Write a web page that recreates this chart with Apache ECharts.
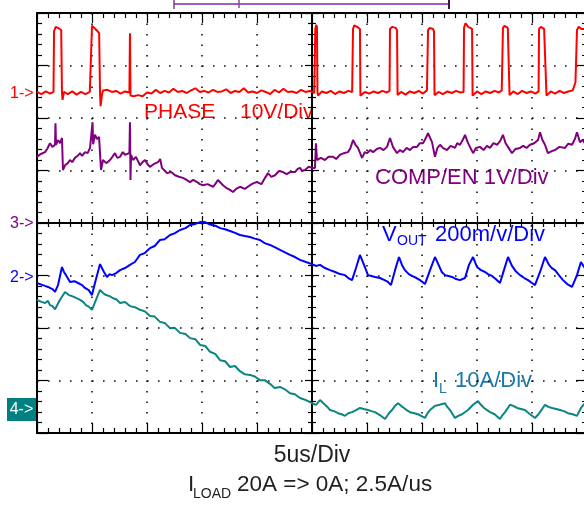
<!DOCTYPE html>
<html>
<head>
<meta charset="utf-8">
<script src="https://cdn.jsdelivr.net/npm/echarts/dist/echarts.min.js"></script>
<style>
html, body { margin: 0; padding: 0; background: #fff; }
#main { width: 584px; height: 505px; }
</style>
</head>
<body>
<div id="main"></div>
<script>
// time axis in us (5us/div, 10 div)
var timeTicks = [0, 5, 10, 15, 20, 25, 30, 35, 40, 45, 50]

// CH1 PHASE, volts
var phase = [
  [0, 0.2], [0.4, -0.2], [0.8, 0.3], [1.2, -0.1], [1.5, 0.2],
  [1.55, 11.8], [1.7, 12.6], [1.9, 12.4], [2.2, 12.0], [2.27, 0], [2.32, -1.3], [2.45, 0.2],
  [2.8, -0.2], [3.2, 0.3], [3.6, -0.3], [4.0, 0.2], [4.4, -0.2], [4.8, 0.2], [4.97, 0],
  [5.0, 12.8], [5.15, 12.5], [5.4, 12.0], [5.65, 11.4], [5.73, 0], [5.78, -2.5], [5.9, -0.4], [6.0, 0.5],
  [6.4, 0.6], [6.8, 0.2], [7.2, 0.4], [7.6, -0.1], [8.0, 0.3], [8.4, 0.1],
  [8.45, 11.4], [8.5, -0.5], [8.8, -0.6], [9.2, -0.4], [9.6, -0.6], [10.0, 0.1], [10.4, -0.1],
  [10.8, 0.6], [11.2, 0], [11.6, 0.4], [12.0, 0.1], [12.4, 0.8], [12.8, 0.2], [13.2, 0.4],
  [13.6, 0], [14.0, 0.5], [14.4, 0.9], [14.8, 0.2], [15.2, 0.4], [15.6, 0.1], [16.0, 0.6],
  [16.4, 0.2], [16.8, 0.3], [17.2, 0.7], [17.6, 0], [18.0, 0.4], [18.4, 0.2], [18.8, 0.9],
  [19.2, 0.1], [19.6, 0.3], [20.0, 0], [20.4, 0.5], [20.8, 0.2], [21.2, -0.2], [21.6, 0.6],
  [22.0, 0.1], [22.4, 0.8], [22.8, 0.2], [23.2, 0.3], [23.6, 0], [24.0, 0.6], [24.4, 0.2],
  [24.8, 0.4], [25.2, 0],
  [25.3, 12.2], [25.38, 13.0], [25.45, 12.6], [25.5, 0], [25.55, -0.5], [25.9, 0.3], [26.3, 0],
  [26.7, 0.4], [27.1, -0.2], [27.5, 0.3], [27.9, 0], [28.3, 0.4], [28.65, 0.2],
  [28.73, 12.2], [28.85, 12.9], [29.1, 12.6], [29.36, 12.2], [29.4, -0.5], [29.8, 0.2],
  [30.2, -0.1], [30.6, 0.3], [31.0, 0], [31.4, 0.4], [31.8, 0.1], [32.05, 0.4],
  [32.09, 12.2], [32.3, 12.6], [32.6, 12.4], [32.73, 12.0], [32.78, -0.4], [33.1, 0.2],
  [33.5, -0.3], [33.9, 0.3], [34.3, 0], [34.7, 0.4], [35.1, -0.1], [35.45, 0.5],
  [35.55, 12.0], [35.7, 12.4], [36.0, 12.2], [36.09, 11.8], [36.14, -0.4], [36.5, 0.2],
  [36.9, -0.2], [37.3, 0.3], [37.7, 0], [38.1, 0.4], [38.5, 0.1], [38.78, 0.2],
  [38.82, 12.4], [38.95, 13.3], [39.2, 12.6], [39.55, 12.2], [39.6, -0.5], [40.0, 0.3],
  [40.4, -0.2], [40.8, 0.3], [41.2, 0], [41.6, 0.4], [42.0, 0.1], [42.25, 0.5],
  [42.36, 12.4], [42.5, 12.8], [42.8, 12.4], [42.91, 12.2], [42.96, -0.4], [43.3, 0.3],
  [43.7, -0.2], [44.1, 0.4], [44.5, 0], [44.9, 0.3], [45.3, -0.1], [45.6, 0.3],
  [45.64, 12.2], [45.8, 12.6], [46.1, 12.2], [46.27, 12.0], [46.32, -0.5], [46.7, 0.3],
  [47.1, -0.1], [47.5, 0.4], [47.9, 0], [48.3, 0.3], [48.7, 0.5], [48.95, 2.0],
  [49.09, 12.0], [49.25, 12.6], [49.5, 12.2], [49.8, 12.2]
]

// CH3 COMP/EN, volts
var comp = [
  [0, 1.26], [0.3, 1.31], [0.73, 1.35], [0.95, 1.42], [1.18, 1.52], [1.4, 1.45], [1.64, 1.49],
  [1.68, 1.90], [1.73, 1.49], [1.91, 1.58], [2.1, 1.52], [2.27, 1.62], [2.36, 1.01], [2.55, 1.10],
  [2.8, 1.14], [3.0, 1.20], [3.2, 1.16], [3.45, 1.24], [3.7, 1.28], [3.91, 1.33], [4.1, 1.28],
  [4.36, 1.35], [4.6, 1.33], [4.82, 1.43], [5.0, 1.45], [5.05, 1.92], [5.1, 1.50], [5.27, 1.68],
  [5.45, 1.60], [5.64, 1.64], [5.82, 1.01], [6.0, 1.20], [6.3, 1.14], [6.64, 1.20], [6.85, 1.26],
  [7.09, 1.33], [7.3, 1.24], [7.55, 1.26], [7.8, 1.35], [8.0, 1.30], [8.4, 1.33], [8.45, 1.92],
  [8.5, 0.82], [8.55, 1.30], [8.73, 1.20], [9.0, 1.26], [9.36, 1.10], [9.6, 1.16], [9.82, 1.20],
  [10.05, 1.12], [10.27, 1.07], [10.6, 1.12], [11.0, 1.16], [11.2, 1.22], [11.36, 1.05],
  [11.6, 1.00], [11.82, 0.95], [12.2, 0.97], [12.55, 0.91], [12.9, 0.88], [13.27, 0.86],
  [13.6, 0.82], [13.91, 0.78], [14.2, 0.82], [14.55, 0.78], [14.8, 0.74], [15.09, 0.72],
  [15.5, 0.74], [16.0, 0.69], [16.2, 0.74], [16.45, 0.82], [16.91, 0.72], [17.2, 0.67],
  [17.55, 0.63], [17.82, 0.59], [18.1, 0.65], [18.45, 0.69], [18.9, 0.65], [19.36, 0.72],
  [19.7, 0.76], [20.0, 0.78], [20.4, 0.74], [20.73, 0.86], [21.0, 0.95], [21.3, 0.88],
  [21.64, 0.91], [22.0, 0.99], [22.36, 0.97], [22.7, 0.93], [23.0, 0.97], [23.45, 0.97],
  [23.7, 1.03], [23.91, 1.05], [24.1, 0.99], [24.36, 1.01], [24.7, 1.07], [25.0, 1.05],
  [25.27, 1.05], [25.36, 1.52], [25.45, 1.20], [25.8, 1.24], [26.18, 1.20], [26.5, 1.26],
  [26.91, 1.26], [27.2, 1.22], [27.55, 1.30], [27.9, 1.33], [28.27, 1.35], [28.5, 1.43],
  [28.73, 1.58], [28.95, 1.49], [29.18, 1.43], [29.55, 1.24], [29.8, 1.35], [30.0, 1.33],
  [30.3, 1.39], [30.55, 1.35], [30.9, 1.41], [31.18, 1.43], [31.5, 1.39], [31.82, 1.45],
  [32.09, 1.62], [32.36, 1.45], [32.73, 1.33], [33.0, 1.39], [33.27, 1.35], [33.6, 1.43],
  [33.91, 1.39], [34.2, 1.45], [34.55, 1.45], [34.8, 1.52], [35.09, 1.52], [35.3, 1.60],
  [35.55, 1.71], [35.91, 1.54], [36.18, 1.26], [36.4, 1.43], [36.64, 1.49], [36.9, 1.43],
  [37.27, 1.39], [37.6, 1.47], [38.0, 1.43], [38.2, 1.52], [38.45, 1.49], [38.7, 1.58],
  [38.91, 1.68], [39.15, 1.54], [39.36, 1.45], [39.64, 1.33], [39.9, 1.43], [40.27, 1.45],
  [40.6, 1.39], [40.9, 1.47], [41.18, 1.43], [41.5, 1.52], [41.82, 1.49], [42.1, 1.56],
  [42.36, 1.68], [42.6, 1.52], [42.82, 1.45], [43.18, 1.33], [43.5, 1.41], [43.91, 1.43],
  [44.2, 1.47], [44.5, 1.43], [44.82, 1.49], [45.2, 1.52], [45.55, 1.58], [45.73, 1.73],
  [45.95, 1.58], [46.18, 1.49], [46.45, 1.33], [46.8, 1.37], [47.09, 1.39], [47.5, 1.45],
  [48.0, 1.43], [48.3, 1.51], [48.64, 1.49], [48.9, 1.60], [49.09, 1.73], [49.36, 1.54],
  [49.6, 1.58], [49.8, 1.52]
]

// CH2 VOUT, mV (ac)
var vout = [
  [0, -19], [0.4, -25], [0.73, -30], [1.0, -34], [1.18, -38], [1.4, -42], [1.64, -53], [1.91, -27],
  [2.27, 42], [2.45, 23], [2.64, 11], [3.0, -15], [3.4, -12], [3.73, -19], [4.1, -27], [4.36, -38],
  [4.7, -46], [5.0, -65], [5.27, -19], [5.73, 53], [5.9, 38], [6.09, 23], [6.36, 4], [6.6, 15],
  [6.82, 11], [7.2, 19], [7.55, 30], [8.0, 38], [8.45, 50], [8.9, 61], [9.36, 88], [9.8, 95],
  [10.27, 114], [10.7, 122], [11.18, 145], [11.6, 148], [12.09, 164], [12.5, 170], [13.0, 183],
  [13.5, 190], [13.91, 202], [14.4, 206], [14.82, 213], [15.27, 213], [15.6, 206], [15.91, 202],
  [16.3, 198], [16.64, 190], [17.1, 186], [17.55, 179], [18.0, 172], [18.45, 164], [18.9, 160],
  [19.36, 156], [19.8, 150], [20.27, 145], [20.7, 133], [21.18, 126], [21.6, 118], [22.09, 107],
  [22.5, 99], [23.0, 88], [23.45, 80], [23.91, 69], [24.45, 61], [25.0, 53], [25.36, 46],
  [25.73, 50], [26.18, 38], [26.64, 30], [27.1, 23], [27.55, 15], [28.0, 11], [28.3, 0],
  [28.64, -8], [29.0, 38], [29.36, 88], [29.73, 50], [30.09, 11], [30.4, 8], [30.73, 4],
  [31.18, 0], [31.6, -8], [31.91, -15], [32.18, -27], [32.55, 30], [32.91, 80], [33.18, 50],
  [33.45, 30], [33.8, 15], [34.09, 8], [34.5, 0], [34.82, -8], [35.27, -23], [35.73, 30],
  [36.18, 80], [36.55, 46], [36.8, 23], [37.09, 11], [37.4, 8], [37.73, 4], [38.1, -4],
  [38.45, -8], [38.91, 0], [39.27, 50], [39.64, 80], [40.0, 42], [40.36, 30], [40.73, 23],
  [41.0, 15], [41.36, 8], [41.7, -4], [42.09, -19], [42.45, 30], [42.82, 80], [43.18, 46],
  [43.5, 27], [43.91, 11], [44.3, 0], [44.64, -8], [45.0, -19], [45.27, -27], [45.73, 23],
  [46.18, 80], [46.55, 50], [46.8, 38], [47.09, 30], [47.5, 8], [47.82, -8], [48.2, -23],
  [48.64, -34], [49.09, 11], [49.45, 61], [49.8, 38]
]

// CH4 IL, amps
var il = [
  [0, 20.8], [0.4, 20.4], [0.73, 20.2], [1.0, 20.6], [1.18, 19.8], [1.4, 19.6], [1.64, 19.0],
  [2.09, 20.8], [2.55, 22.3], [2.9, 21.7], [3.18, 21.5], [3.5, 21.2], [3.91, 20.8], [4.2, 20.4],
  [4.45, 19.8], [4.7, 19.5], [5.0, 18.9], [5.36, 20.8], [5.73, 22.7], [6.0, 22.1], [6.27, 21.7],
  [6.6, 21.5], [6.91, 21.1], [7.2, 20.9], [7.55, 20.2], [8.0, 20.4], [8.45, 19.6], [8.9, 19.4],
  [9.36, 18.9], [9.8, 18.6], [10.27, 17.7], [10.7, 17.6], [11.18, 16.6], [11.6, 16.4],
  [12.09, 15.4], [12.5, 15.5], [13.0, 14.5], [13.5, 14.3], [13.91, 13.5], [14.4, 13.3],
  [14.82, 12.2], [15.3, 12.0], [15.73, 10.9], [16.2, 10.5], [16.64, 9.3], [17.1, 9.1],
  [17.55, 8.0], [18.0, 8.2], [18.45, 7.2], [18.9, 6.6], [19.36, 6.5], [19.8, 6.2], [20.27, 5.5],
  [20.7, 5.5], [21.18, 4.8], [21.6, 4.0], [22.09, 4.2], [22.5, 3.8], [23.0, 3.0], [23.45, 2.8],
  [23.91, 2.1], [24.45, 1.7], [25.0, 1.1], [25.36, 0.8], [25.73, 1.7], [26.18, 0.8], [26.4, 0.4],
  [26.64, -0.2], [27.0, -0.4], [27.36, -0.8], [27.7, -1.0], [28.0, -1.3], [28.3, -0.8],
  [28.64, -0.6], [29.0, -0.2], [29.36, 0.2], [29.7, 0], [30.09, -0.2], [30.4, -0.4], [30.73, -0.6],
  [31.2, -1.2], [31.64, -1.9], [32.0, -0.8], [32.27, -0.2], [32.55, 0.6], [32.82, 1.1],
  [33.1, 0.6], [33.36, 0.2], [33.6, -0.2], [33.91, -0.6], [34.3, -0.8], [34.64, -1.0],
  [35.0, -1.4], [35.27, -1.7], [35.5, -0.8], [35.73, -0.2], [36.18, 0.6], [36.6, 0.8],
  [37.09, 1.1], [37.3, 0.4], [37.55, -0.2], [38.0, -1.7], [38.3, -1.3], [38.64, -1.0],
  [39.18, -0.2], [39.64, 0.8], [40.09, 1.5], [40.36, 0.8], [40.64, 0.2], [41.18, -0.6],
  [41.6, -1.0], [42.09, -1.9], [42.3, -1.2], [42.55, -0.6], [43.0, 0.8], [43.3, 0.6], [43.64, 0.2],
  [44.0, 0], [44.36, -0.2], [44.82, -1.0], [45.27, -1.7], [45.5, -1.2], [45.73, -0.6], [46.18, 0.8],
  [46.5, 0.4], [46.82, 0.2], [47.2, 0], [47.55, -0.2], [47.9, -0.4], [48.27, -0.8], [48.7, -1.0],
  [49.09, -1.3], [49.45, 0.2], [49.8, 1.1]
]

// channel ground markers (div from bottom) and scale per div
var channels = [
  { name: 'PHASE', data: phase, base: 6.476, perDiv: 10, color: '#ff0000' },
  { name: 'COMP/EN', data: comp, base: 4, perDiv: 1, color: '#800080' },
  { name: 'VOUT', data: vout, base: 2.952, perDiv: 200, color: '#0000ff' },
  { name: 'IL', data: il, base: 0.457, perDiv: 10, color: '#0a8580' }
]

var font = '"Liberation Sans", Arial, sans-serif'
var chart = echarts.init(document.getElementById('main'))

function xAx(pos, offset, inside, major, minor, showLine, split) {
  return {
    type: 'value', min: timeTicks[0], max: timeTicks[timeTicks.length - 1], interval: 5,
    position: pos, offset: offset,
    axisLine: { show: showLine, onZero: false, lineStyle: { color: '#000', width: 2 } },
    axisTick: { show: true, inside: inside, length: major, lineStyle: { color: '#000', width: 1.2 } },
    minorTick: { show: true, splitNumber: 5, length: minor, lineStyle: { color: '#000', width: 1.2 } },
    axisLabel: { show: false },
    splitLine: { show: split, lineStyle: { color: '#111', width: 1.6, type: [1.6, 8.9] } }
  }
}
function yAx(pos, offset, inside, major, minor, showLine, split) {
  return {
    type: 'value', min: 0, max: 8, interval: 1,
    position: pos, offset: offset,
    axisLine: { show: showLine, onZero: false, lineStyle: { color: '#000', width: 2 } },
    axisTick: { show: true, inside: inside, length: major, lineStyle: { color: '#000', width: 1.2 } },
    minorTick: { show: true, splitNumber: 5, length: minor, lineStyle: { color: '#000', width: 1.2 } },
    axisLabel: { show: false },
    splitLine: { show: split, lineStyle: { color: '#111', width: 1.6, type: [1.6, 9.4] } }
  }
}

var series = channels.map(function (c) {
  return {
    name: c.name,
    type: 'line',
    showSymbol: false,
    symbol: 'none',
    animation: false,
    clip: true,
    z: 3,
    lineStyle: { color: c.color, width: 2 },
    data: c.data.map(function (p) { return [p[0], c.base + p[1] / c.perDiv] })
  }
})

function txt(x, y, s, size, color, align) {
  return {
    type: 'text', x: x, y: y, silent: true,
    style: { text: s, fill: color, font: size + 'px ' + font, align: align || 'left', verticalAlign: 'middle' }
  }
}

var option = {
  backgroundColor: '#fff',
  animation: false,
  grid: { left: 37, top: 13, width: 550, height: 420, outerBoundsMode: 'none' },
  xAxis: [
    xAx('bottom', 0, true, 10, 5, true, true),
    xAx('top', 0, true, 10, 5, true, false),
    xAx('bottom', -210, true, 7, 4, true, false),
    xAx('bottom', -210, false, 7, 4, false, false)
  ],
  yAxis: [
    yAx('left', 0, true, 11, 5, true, true),
    yAx('right', 0, true, 11, 5, true, false),
    yAx('left', -275, true, 7, 4, true, false),
    yAx('left', -275, false, 7, 4, false, false)
  ],
  series: series,
  graphic: [
    // trigger / memory bar on top
    { type: 'line', shape: { x1: 174, y1: 4, x2: 449, y2: 4 }, style: { stroke: '#a65db6', lineWidth: 2 } },
    { type: 'line', shape: { x1: 174, y1: 0, x2: 174, y2: 9 }, style: { stroke: '#7b3a8b', lineWidth: 1.5 } },
    { type: 'line', shape: { x1: 239, y1: 0, x2: 239, y2: 8 }, style: { stroke: '#8a4a9a', lineWidth: 1.5 } },
    { type: 'line', shape: { x1: 449, y1: 0, x2: 449, y2: 9 }, style: { stroke: '#3a1a42', lineWidth: 2 } },
    // channel markers
    txt(10, 94, '1->', 16, '#ff0000'),
    txt(10, 224, '3->', 16, '#800080'),
    txt(10, 278, '2->', 16, '#0000ff'),
    { type: 'rect', shape: { x: 7, y: 398, width: 29, height: 23 }, style: { fill: '#008080' } },
    txt(21.5, 409.5, '4->', 16, '#fff', 'center'),
    // channel labels
    txt(144, 112.5, 'PHASE', 21, '#ff0000'),
    txt(240, 112.5, '10V/Div', 21, '#ff0000'),
    txt(375, 177.5, 'COMP/EN 1V/Div', 22, '#800080'),
    txt(382, 235, 'V', 22, '#0000ff'),
    txt(397, 241.5, 'OUT', 14, '#0000ff'),
    txt(435, 235, '200m/v/Div', 22, '#0000ff'),
    txt(433, 381, 'I', 22, '#1a78a8'),
    txt(439, 389, 'L', 14, '#1a78a8'),
    txt(455, 381, '10A/Div', 22, '#1a78a8'),
    // footer
    txt(312, 455.5, '5us/Div', 23, '#231f20', 'center'),
    txt(188, 485, 'I', 22.5, '#231f20'),
    txt(193, 494, 'LOAD', 14, '#231f20'),
    txt(237, 485, '20A => 0A; 2.5A/us', 22.5, '#231f20')
  ]
}
chart.setOption(option)
</script>
</body>
</html>
